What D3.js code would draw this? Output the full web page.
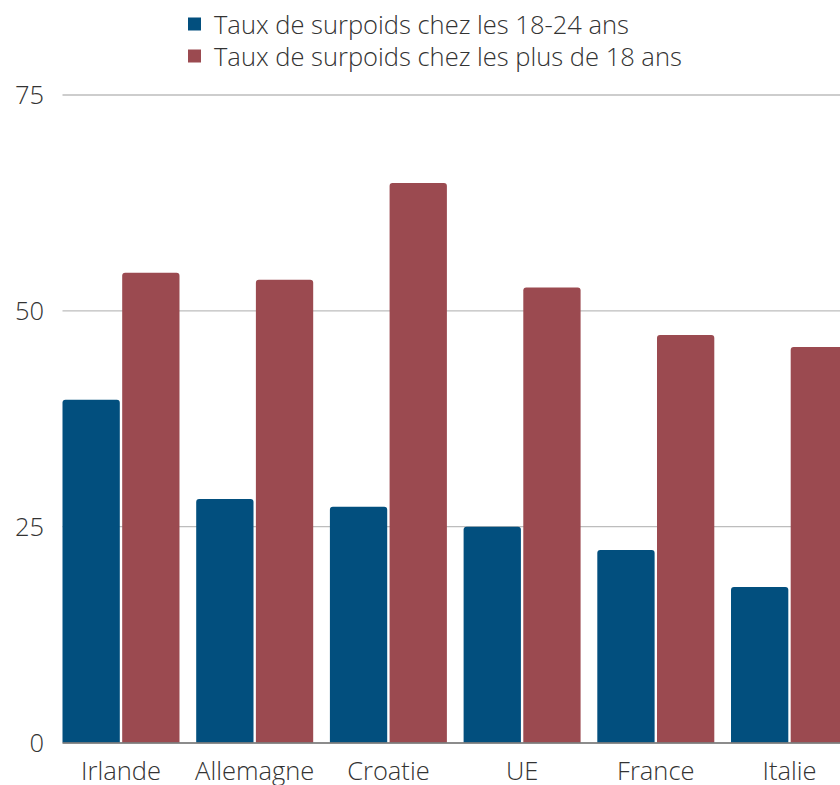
<!DOCTYPE html>
<html>
<head>
<meta charset="utf-8">
<script src="https://cdn.jsdelivr.net/npm/d3@7"></script>
<style>
  body { margin: 0; background: #fff; }
  text { font-family: "Open Sans", sans-serif; font-weight: 300; fill: #333; }
</style>
</head>
<body>
<script>
// data
const categories = ["Irlande", "Allemagne", "Croatie", "UE", "France", "Italie"];
const seriesNames = ["Taux de surpoids chez les 18-24 ans", "Taux de surpoids chez les plus de 18 ans"];
const young = [39.7, 28.2, 27.3, 25.0, 22.3, 18.0];
const adults = [54.4, 53.6, 64.8, 52.7, 47.2, 45.8];
const yTicks = [0, 25, 50, 75];

const colors = ["#024f7e", "#9b4a50"];
const width = 840, height = 785;
const fontSize = 25.5;

const svg = d3.select("body").append("svg")
  .attr("width", width)
  .attr("height", height);

const y = d3.scaleLinear().domain([0, 75]).range([742.5, 95]);

const x0 = d3.scaleBand()
  .domain(categories)
  .range([62.5, 848])
  .paddingInner(0.125)
  .paddingOuter(0);

const x1 = d3.scaleBand()
  .domain([0, 1])
  .range([0, x0.bandwidth()])
  .paddingInner(0.04);

// gridlines
svg.append("g")
  .selectAll("line")
  .data(yTicks.filter(d => d > 0))
  .join("line")
  .attr("x1", 62.5)
  .attr("x2", width)
  .attr("y1", d => y(d))
  .attr("y2", d => y(d))
  .attr("stroke", "#bdbdbd")
  .attr("stroke-width", 1.3);

// y tick labels
svg.append("g")
  .selectAll("text")
  .data(yTicks)
  .join("text")
  .attr("x", 44)
  .attr("y", d => y(d))
  .attr("dy", "0.36em")
  .attr("text-anchor", "end")
  .attr("font-size", fontSize)
  .text(d => d);

// bar with rounded top corners
function barPath(x, top, w, bottom) {
  const r = Math.min(3, (bottom - top) / 2);
  return `M${x},${bottom}V${top + r}Q${x},${top} ${x + r},${top}H${x + w - r}Q${x + w},${top} ${x + w},${top + r}V${bottom}Z`;
}

const rows = categories.map((c, i) => ({ cat: c, vals: [young[i], adults[i]] }));

const groups = svg.append("g")
  .selectAll("g")
  .data(rows)
  .join("g")
  .attr("transform", d => `translate(${x0(d.cat)},0)`);

groups.selectAll("path")
  .data(d => d.vals.map((v, k) => ({ k, v })))
  .join("path")
  .attr("d", d => barPath(x1(d.k), y(d.v), x1.bandwidth(), y(0)))
  .attr("fill", d => colors[d.k]);

// baseline
svg.append("line")
  .attr("x1", 62.5)
  .attr("x2", width)
  .attr("y1", y(0) + 0.5)
  .attr("y2", y(0) + 0.5)
  .attr("stroke", "#666")
  .attr("stroke-width", 1.4);

// category labels
svg.append("g")
  .selectAll("text")
  .data(categories)
  .join("text")
  .attr("x", d => x0(d) + x0.bandwidth() / 2)
  .attr("y", 780)
  .attr("text-anchor", "middle")
  .attr("font-size", fontSize)
  .text(d => d);

// legend
const legend = svg.append("g")
  .selectAll("g")
  .data(seriesNames)
  .join("g")
  .attr("transform", (d, i) => `translate(188,${17.5 + i * 32})`);

legend.append("rect")
  .attr("width", 13)
  .attr("height", 13)
  .attr("fill", (d, i) => colors[i]);

legend.append("text")
  .attr("x", 26)
  .attr("y", 16.5)
  .attr("font-size", fontSize)
  .text(d => d);
</script>
</body>
</html>
